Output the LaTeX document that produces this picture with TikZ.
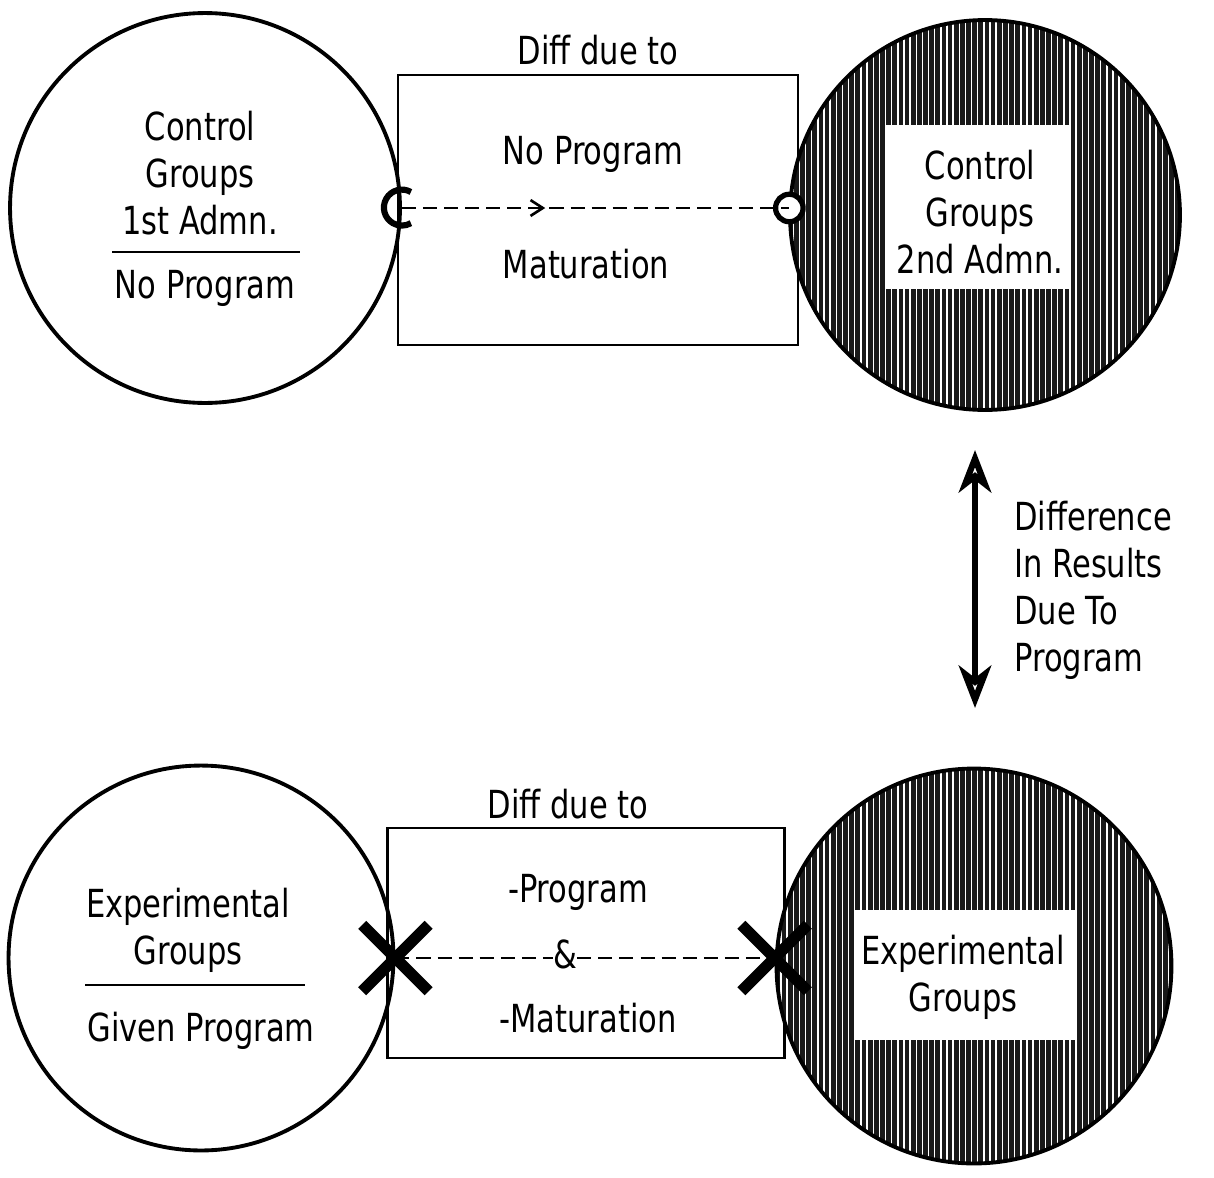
\documentclass[tikz,border=0pt]{standalone}
\usepackage{fontspec}
\setmainfont{DejaVu Sans}[FakeStretch=0.79]
\usetikzlibrary{arrows.meta, positioning, shapes.misc, decorations.markings, patterns.meta}

\begin{document}
\begin{tikzpicture}[x=0.02cm, y=-0.02cm,
    txt/.style={font=\fontsize{22}{26.7}\selectfont, align=center, inner sep=0pt},
    grp/.style={circle, draw, line width=2.2pt, minimum size=#1, inner sep=0pt},
    shaded/.style={grp=#1, preaction={fill=black!90},
                   pattern={Lines[angle=90, distance=3.5pt, line width=0.8pt]},
                   pattern color=white},
    diffbox/.style={rectangle, draw, line width=1.4pt, inner sep=0pt},
    conn/.style={line width=1.5pt, dash pattern=on 8pt off 4pt},
    xmark/.style={cross out, draw, line width=6.5pt, minimum size=1.1cm, inner sep=0pt},
  ]
    \useasboundingbox (0,0) rectangle (1214,1177);

    % top row: control groups
    \node[diffbox, minimum width=8cm, minimum height=5.4cm] (cbox) at (598,210) {};
    \node[grp=7.8cm] (c1) at (205,208) {};
    \node[shaded=7.8cm] (c2) at (985,215) {};
    \node[rectangle, fill=white, minimum width=3.74cm, minimum height=3.3cm] (c2w) at (978,207) {};

    \node[txt] (c1t) at (200,173) {Control\\Groups\\1st Admn.};
    \draw[line width=1.4pt] (112,252) -- (300,252);
    \node[txt] (c1p) at (205,288) {No Program};
    \node[txt] (c2t) at (980,212) {Control\\Groups\\2nd Admn.};
    \node[txt] (cdue) at (598,50) {Diff due to};
    \node[txt] (cnp) at (593,154) {No Program};
    \node[txt] (cmat) at (586,264) {Maturation};

    \node[circle, draw, fill=white, line width=3pt, minimum size=0.55cm, inner sep=0pt] (cend) at (c1.east -| c2.west) {};
    \draw[conn, postaction={decorate},
          decoration={markings, mark=at position 0.37 with {\arrow{Straight Barb[length=7pt, width=9pt]}}}]
      (c1.east) -- (cend.center);
    \draw[line width=3.5pt] ([shift={(9,-16)}]c1.east) arc[start angle=60, end angle=300, radius=0.36cm];

    % bottom row: experimental groups
    \node[diffbox, minimum width=7.94cm, minimum height=4.6cm] (ebox) at (586,943) {};
    \node[grp=7.7cm] (e1) at (201,958) {};
    \node[shaded=7.9cm] (e2) at (974,966) {};
    \node[rectangle, fill=white, minimum width=4.4cm, minimum height=2.6cm] (e2w) at (965,975) {};

    \node[txt] (e1t) at (188,930) {Experimental\\Groups};
    \draw[line width=1.4pt] (85,985) -- (305,985);
    \node[txt] (e1p) at (201,1031) {Given Program};
    \node[txt] (e2t) at (963,977) {Experimental\\Groups};
    \node[txt] (edue) at (568,804) {Diff due to};
    \node[txt] (eprog) at (578,892) {-Program};
    \node[txt] (eamp) at (565,954) {\&};
    \node[txt] (emat) at (588,1018) {-Maturation};

    \node[xmark] (ex1) at (e1.east) {};
    \node[xmark] (ex2) at (e1.east -| e2.west) {};
    \draw[conn] (ex1.center) -- (eamp.west |- ex1.center);
    \draw[conn] (eamp.east |- ex1.center) -- (ex2.center);

    % difference arrow
    \coordinate (aTop) at (975,450);
    \coordinate (aBot) at (975,708);
    \draw[line width=3.5pt, {Stealth[open, length=0.85cm, width=0.65cm, inset=0.25cm]}-{Stealth[open, length=0.85cm, width=0.65cm, inset=0.25cm]}]
      (aTop) -- (aBot);
    \node[txt, align=left, anchor=west] (res) at (1014,590) {Difference\\In Results\\Due To\\Program};
  \end{tikzpicture}
\end{document}
